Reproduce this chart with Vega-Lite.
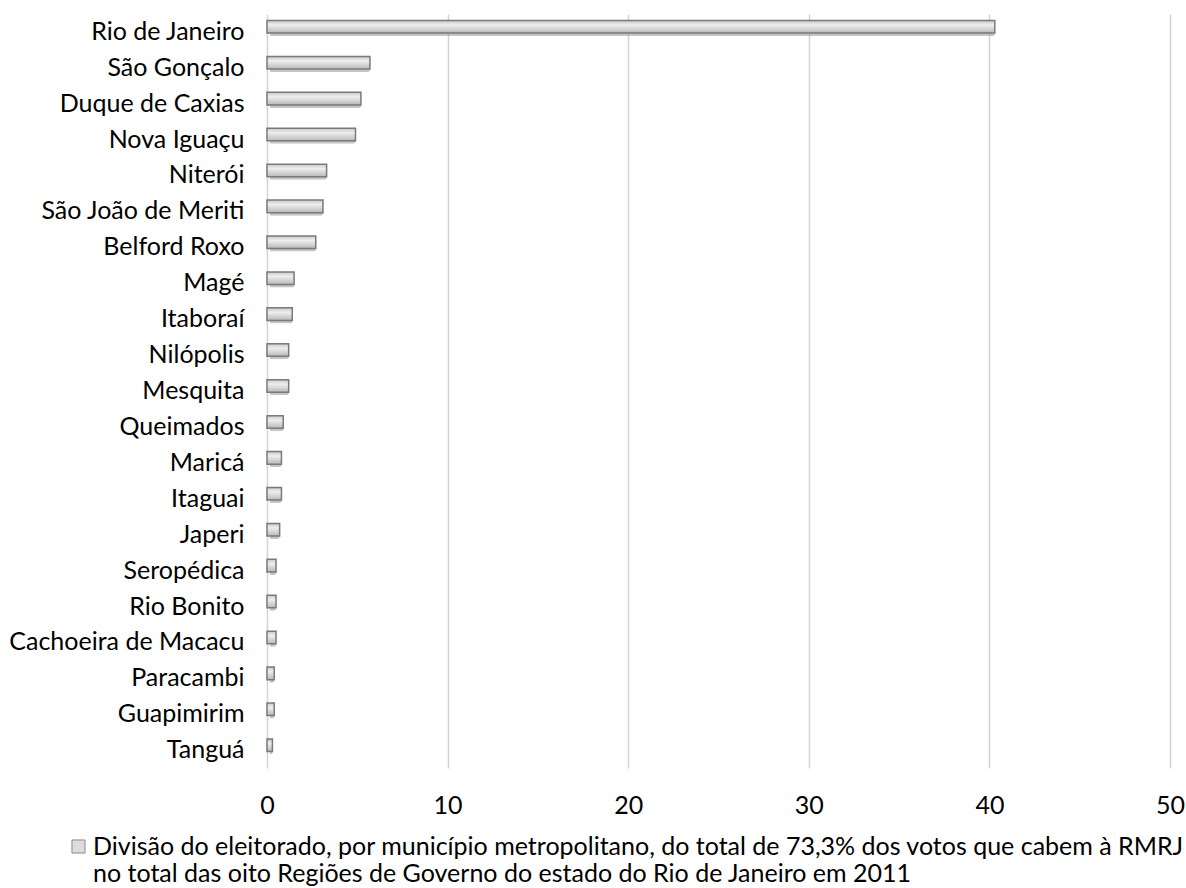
{
  "$schema": "https://vega.github.io/schema/vega-lite/v6.json",
  "autosize": {"type": "none"},
  "width": 903,
  "height": 754,
  "padding": {"left": 267, "top": 14, "right": 16, "bottom": 120},
  "background": "white",
  "config": {
    "view": {"stroke": null},
    "font": "Lato",
    "axis": {"labelFont": "Lato", "labelColor": "#000000", "labelFontSize": 25}
  },
  "data": {
    "values": [
      {"municipio": "Rio de Janeiro", "valor": 40.3, "serie": "Divisão do eleitorado, por município metropolitano, do total de 73,3% dos votos que cabem à RMRJ|no total das oito Regiões de Governo do estado do Rio de Janeiro em 2011"},
      {"municipio": "São Gonçalo", "valor": 5.7, "serie": "Divisão do eleitorado, por município metropolitano, do total de 73,3% dos votos que cabem à RMRJ|no total das oito Regiões de Governo do estado do Rio de Janeiro em 2011"},
      {"municipio": "Duque de Caxias", "valor": 5.2, "serie": "Divisão do eleitorado, por município metropolitano, do total de 73,3% dos votos que cabem à RMRJ|no total das oito Regiões de Governo do estado do Rio de Janeiro em 2011"},
      {"municipio": "Nova Iguaçu", "valor": 4.9, "serie": "Divisão do eleitorado, por município metropolitano, do total de 73,3% dos votos que cabem à RMRJ|no total das oito Regiões de Governo do estado do Rio de Janeiro em 2011"},
      {"municipio": "Niterói", "valor": 3.3, "serie": "Divisão do eleitorado, por município metropolitano, do total de 73,3% dos votos que cabem à RMRJ|no total das oito Regiões de Governo do estado do Rio de Janeiro em 2011"},
      {"municipio": "São João de Meriti", "valor": 3.1, "serie": "Divisão do eleitorado, por município metropolitano, do total de 73,3% dos votos que cabem à RMRJ|no total das oito Regiões de Governo do estado do Rio de Janeiro em 2011"},
      {"municipio": "Belford Roxo", "valor": 2.7, "serie": "Divisão do eleitorado, por município metropolitano, do total de 73,3% dos votos que cabem à RMRJ|no total das oito Regiões de Governo do estado do Rio de Janeiro em 2011"},
      {"municipio": "Magé", "valor": 1.5, "serie": "Divisão do eleitorado, por município metropolitano, do total de 73,3% dos votos que cabem à RMRJ|no total das oito Regiões de Governo do estado do Rio de Janeiro em 2011"},
      {"municipio": "Itaboraí", "valor": 1.4, "serie": "Divisão do eleitorado, por município metropolitano, do total de 73,3% dos votos que cabem à RMRJ|no total das oito Regiões de Governo do estado do Rio de Janeiro em 2011"},
      {"municipio": "Nilópolis", "valor": 1.2, "serie": "Divisão do eleitorado, por município metropolitano, do total de 73,3% dos votos que cabem à RMRJ|no total das oito Regiões de Governo do estado do Rio de Janeiro em 2011"},
      {"municipio": "Mesquita", "valor": 1.2, "serie": "Divisão do eleitorado, por município metropolitano, do total de 73,3% dos votos que cabem à RMRJ|no total das oito Regiões de Governo do estado do Rio de Janeiro em 2011"},
      {"municipio": "Queimados", "valor": 0.9, "serie": "Divisão do eleitorado, por município metropolitano, do total de 73,3% dos votos que cabem à RMRJ|no total das oito Regiões de Governo do estado do Rio de Janeiro em 2011"},
      {"municipio": "Maricá", "valor": 0.8, "serie": "Divisão do eleitorado, por município metropolitano, do total de 73,3% dos votos que cabem à RMRJ|no total das oito Regiões de Governo do estado do Rio de Janeiro em 2011"},
      {"municipio": "Itaguai", "valor": 0.8, "serie": "Divisão do eleitorado, por município metropolitano, do total de 73,3% dos votos que cabem à RMRJ|no total das oito Regiões de Governo do estado do Rio de Janeiro em 2011"},
      {"municipio": "Japeri", "valor": 0.7, "serie": "Divisão do eleitorado, por município metropolitano, do total de 73,3% dos votos que cabem à RMRJ|no total das oito Regiões de Governo do estado do Rio de Janeiro em 2011"},
      {"municipio": "Seropédica", "valor": 0.5, "serie": "Divisão do eleitorado, por município metropolitano, do total de 73,3% dos votos que cabem à RMRJ|no total das oito Regiões de Governo do estado do Rio de Janeiro em 2011"},
      {"municipio": "Rio Bonito", "valor": 0.5, "serie": "Divisão do eleitorado, por município metropolitano, do total de 73,3% dos votos que cabem à RMRJ|no total das oito Regiões de Governo do estado do Rio de Janeiro em 2011"},
      {"municipio": "Cachoeira de Macacu", "valor": 0.5, "serie": "Divisão do eleitorado, por município metropolitano, do total de 73,3% dos votos que cabem à RMRJ|no total das oito Regiões de Governo do estado do Rio de Janeiro em 2011"},
      {"municipio": "Paracambi", "valor": 0.4, "serie": "Divisão do eleitorado, por município metropolitano, do total de 73,3% dos votos que cabem à RMRJ|no total das oito Regiões de Governo do estado do Rio de Janeiro em 2011"},
      {"municipio": "Guapimirim", "valor": 0.4, "serie": "Divisão do eleitorado, por município metropolitano, do total de 73,3% dos votos que cabem à RMRJ|no total das oito Regiões de Governo do estado do Rio de Janeiro em 2011"},
      {"municipio": "Tanguá", "valor": 0.3, "serie": "Divisão do eleitorado, por município metropolitano, do total de 73,3% dos votos que cabem à RMRJ|no total das oito Regiões de Governo do estado do Rio de Janeiro em 2011"}
    ]
  },
  "encoding": {
    "y": {
      "field": "municipio", "type": "nominal", "sort": null,
      "scale": {"paddingInner": 0.65, "paddingOuter": 0.32},
      "axis": {"title": null, "ticks": false, "domain": false, "labelPadding": 23, "grid": false, "labelLimit": 320}
    },
    "x": {
      "field": "valor", "type": "quantitative",
      "scale": {"domain": [0, 50], "nice": false},
      "axis": {"title": null, "values": [0, 10, 20, 30, 40, 50], "ticks": false, "domain": false,
               "labelPadding": 25, "grid": true, "gridColor": "#d4d4d4", "gridWidth": 1.5, "labelFlush": false}
    }
  },
  "layer": [
    {
      "mark": {"type": "bar", "xOffset": 3, "yOffset": -2, "fill": "#8c8c8c", "opacity": 0.5, "cornerRadius": 2},
      "encoding": {}
    },
    {
      "mark": {
        "type": "bar",
        "yOffset": -5,
        "stroke": "#7a7a7a",
        "strokeWidth": 1.5,
        "fill": {"gradient": "linear", "x1": 0, "y1": 0, "x2": 0, "y2": 1,
                 "stops": [{"offset": 0, "color": "#c8c8c8"}, {"offset": 0.35, "color": "#eeeeee"}, {"offset": 1, "color": "#b8b8b8"}]}
      },
      "encoding": {
        "color": {
          "field": "serie", "type": "nominal",
          "scale": {"range": ["#dcdcdc"]},
          "legend": {
            "title": null, "orient": "none", "legendX": -201, "legendY": 820,
            "symbolType": "square", "symbolSize": 170, "symbolStrokeColor": "#8a8a8a", "symbolStrokeWidth": 1,
            "symbolFillColor": "#dcdcdc",
            "labelFont": "Lato", "labelFontSize": 25, "labelColor": "#000000", "labelLimit": 1300,
            "labelExpr": "split(datum.label, '|')", "labelBaseline": "middle", "labelOffset": 2
          }
        }
      }
    }
  ]
}
